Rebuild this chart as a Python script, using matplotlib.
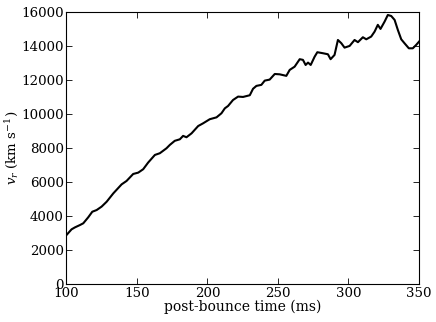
import matplotlib
matplotlib.use("Agg")
import matplotlib.pyplot as plt
import numpy as np

# post-bounce time (ms) and radial velocity (km/s)
time_ms = [100, 103.6, 106, 109.6, 111.9, 115.4, 118.3, 121.4, 124.9, 128.5,
           133.2, 139.1, 142.6, 147.3, 150.9, 154.4, 157.9, 162.7, 166.2, 170.9,
           173.3, 176.8, 180.4, 182.7, 185.1, 188.7, 193.4, 196.9, 201.6, 206.4,
           209.9, 212.3, 214.6, 218.1, 221.7, 225.2, 230, 232.3, 234.7, 238.2,
           240.6, 244.1, 247.7, 251.2, 255.9, 258.3, 261.8, 265.4, 267.7, 269.6,
           271.3, 273.2, 276, 277.9, 281.9, 285.4, 287.3, 290.1, 292.5, 294.9,
           297.2, 300.8, 304.3, 306.7, 310.2, 312.6, 316.1, 318.5, 320.8, 322.7,
           325.6, 327.9, 330.3, 332.7, 335, 337.4, 339.7, 342.8, 345.6, 348, 350]
v_r = [2880, 3215, 3330, 3470, 3570, 3920, 4250, 4350, 4550, 4840,
       5330, 5860, 6060, 6470, 6550, 6750, 7140, 7590, 7690, 7980,
       8180, 8420, 8510, 8710, 8630, 8860, 9290, 9450, 9690, 9800,
       10040, 10330, 10470, 10820, 11020, 11000, 11100, 11480, 11650, 11710,
       11960, 12020, 12350, 12330, 12240, 12590, 12780, 13220, 13180, 12880,
       13020, 12880, 13370, 13630, 13570, 13510, 13220, 13470, 14350, 14160,
       13900, 14000, 14350, 14220, 14510, 14390, 14550, 14840, 15240, 15000,
       15430, 15820, 15760, 15530, 14940, 14390, 14160, 13860, 13860, 14060, 14250]

plt.rcParams['font.family'] = 'DejaVu Serif'
plt.rcParams['mathtext.fontset'] = 'dejavuserif'
plt.rcParams['font.size'] = 10

fig = plt.figure(figsize=(4.36, 3.22), dpi=100)
ax = fig.add_axes([0.1525, 0.118, 0.8085, 0.845])

ax.plot(time_ms, v_r, color='black', linewidth=1.5)

ax.set_xlim(100, 350)
ax.set_ylim(0, 16000)
ax.set_xticks([100, 150, 200, 250, 300, 350])
ax.set_yticks(np.arange(0, 16001, 2000))
ax.tick_params(direction='in', top=True, right=True, length=4, width=0.6,
               pad=2, labelsize=9.6)
for s in ax.spines.values():
    s.set_linewidth(0.8)

ax.set_xlabel('post-bounce time (ms)', labelpad=0)
ax.set_ylabel(r'$v_r$ (km s$^{-1}$)', fontsize=9.6)
ax.yaxis.set_label_coords(-0.13, 0.5)

fig.savefig('out.png', dpi=100)
